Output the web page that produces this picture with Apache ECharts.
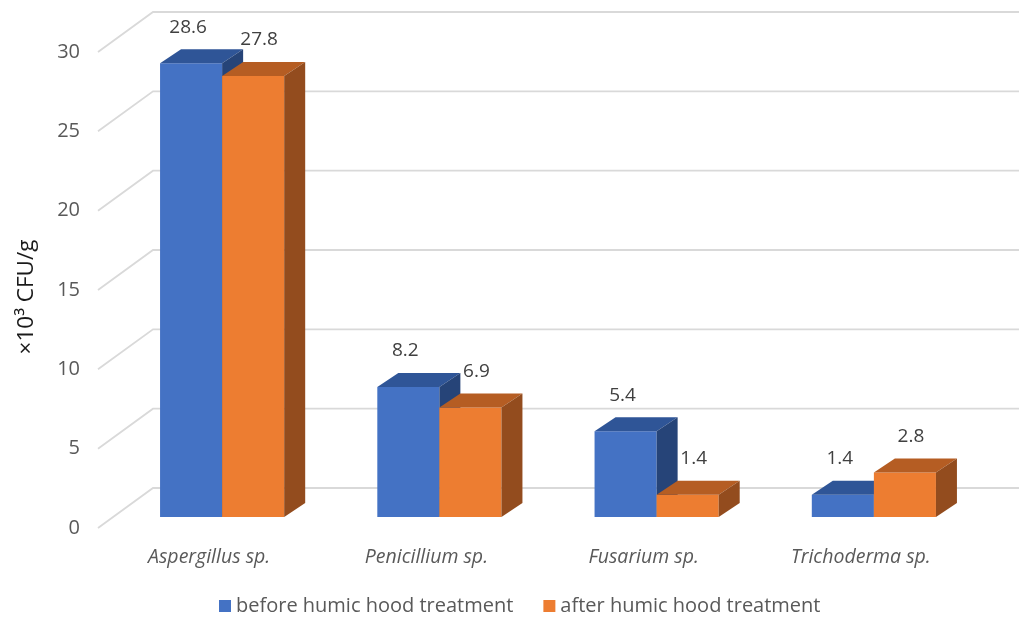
<!DOCTYPE html>
<html>
<head>
<meta charset="utf-8">
<script src="https://cdn.jsdelivr.net/npm/echarts@6/dist/echarts.min.js"></script>
<style>html,body{margin:0;padding:0;background:#fff}#chart{width:1019px;height:621px}</style>
</head>
<body>
<div id="chart"></div>
<script>
const categories = ['Aspergillus sp.', 'Penicillium sp.', 'Fusarium sp.', 'Trichoderma sp.'];
const seriesNames = ['before humic hood treatment', 'after humic hood treatment'];
const beforeValues = [28.6, 8.2, 5.4, 1.4];
const afterValues = [27.8, 6.9, 1.4, 2.8];
const yTicks = [0, 5, 10, 15, 20, 25, 30];

const FONT = 'Open Sans';
const DX = 21, DY = 14;             // bar depth projection
const BACK_DX = 39.5, BACK_DY = 29;  // back wall offset relative to bar front plane
const FLOOR_DX = -15.5, FLOOR_DY = 11;
const palettes = [
  {front: '#4472C4', top: '#2F5597', side: '#264478', labelDx: -3},
  {front: '#ED7D31', top: '#B55D23', side: '#934C1E', labelDx: 6}
];

function barRenderer(sIdx) {
  return function (params, api) {
    const i = api.value(0), v = api.value(1);
    const base = api.coord([i, 0]);
    const top = api.coord([i, v]);
    const band = api.size([1, 0])[0];
    const w = band * 0.2857;
    const x0 = sIdx === 0 ? base[0] - w : base[0];
    const x1 = x0 + w;
    const yb = base[1], yt = top[1];
    const p = palettes[sIdx];
    return {
      type: 'group',
      children: [
        {type: 'rect', shape: {x: x0, y: yt, width: w, height: yb - yt}, style: {fill: p.front}},
        {type: 'polygon', shape: {points: [[x0, yt], [x0 + DX, yt - DY], [x1 + DX, yt - DY], [x1, yt]]}, style: {fill: p.top}},
        {type: 'polygon', shape: {points: [[x1, yt], [x1 + DX, yt - DY], [x1 + DX, yb - DY], [x1, yb]]}, style: {fill: p.side}},
        {type: 'text', style: {text: String(v), x: (x0 + x1) / 2 + p.labelDx, y: yt - DY - 22, align: 'center', verticalAlign: 'middle',
          fill: '#404040', font: '19px "' + FONT + '"'}}
      ]
    };
  };
}

function gridRenderer(params, api) {
  const v = api.value(0);
  const pt = api.coord([0, v]);
  const left = params.coordSys.x;
  const y = pt[1];
  return {
    type: 'polyline',
    shape: {points: [[left + FLOOR_DX, y + FLOOR_DY], [left + BACK_DX, y - BACK_DY], [1019, y - BACK_DY]]},
    style: {stroke: '#D9D9D9', lineWidth: 1.8, fill: null}
  };
}

const chart = echarts.init(document.getElementById('chart'));
chart.setOption({
  animation: false,
  textStyle: {fontFamily: FONT},
  grid: [
    {left: 113.5, right: 36.5, top: 41, bottom: 104},
    {left: 98, right: 36.5, top: 52, bottom: 93}
  ],
  xAxis: [
    {type: 'category', data: categories, gridIndex: 0,
      axisLine: {show: false}, axisTick: {show: false},
      axisLabel: {margin: 30, fontSize: 19.5, fontStyle: 'italic', color: '#595959', padding: [0, 26, 0, 0]}},
    {type: 'category', data: categories, gridIndex: 1, show: false}
  ],
  yAxis: [
    {type: 'value', min: 0, max: 30, interval: 5, gridIndex: 0, show: false, splitLine: {show: false}},
    {type: 'value', min: 0, max: 30, interval: 5, gridIndex: 1,
      axisLine: {show: false}, axisTick: {show: false}, splitLine: {show: false},
      axisLabel: {margin: 18, fontSize: 20, color: '#595959'},
      name: '×10³ CFU/g', nameLocation: 'middle', nameGap: 60, nameRotate: 90,
      nameTextStyle: {fontSize: 22.5, color: '#1a1a1a', padding: [0, 14, 0, 0]}}
  ],
  legend: {
    bottom: 0, left: 214, itemWidth: 12, itemHeight: 12, itemGap: 30, icon: 'rect',
    textStyle: {fontSize: 20, color: '#595959'},
    data: seriesNames
  },
  series: [
    {type: 'custom', name: 'grid', xAxisIndex: 0, yAxisIndex: 0, silent: true, z: 1,
      data: yTicks.map(t => [t]), encode: {y: 0}, renderItem: gridRenderer},
    {type: 'custom', name: seriesNames[0], xAxisIndex: 0, yAxisIndex: 0, z: 2,
      itemStyle: {color: palettes[0].front},
      data: beforeValues.map((v, i) => [i, v]), encode: {x: 0, y: 1}, renderItem: barRenderer(0)},
    {type: 'custom', name: seriesNames[1], xAxisIndex: 0, yAxisIndex: 0, z: 3,
      itemStyle: {color: palettes[1].front},
      data: afterValues.map((v, i) => [i, v]), encode: {x: 0, y: 1}, renderItem: barRenderer(1)}
  ]
});
</script>
</body>
</html>
